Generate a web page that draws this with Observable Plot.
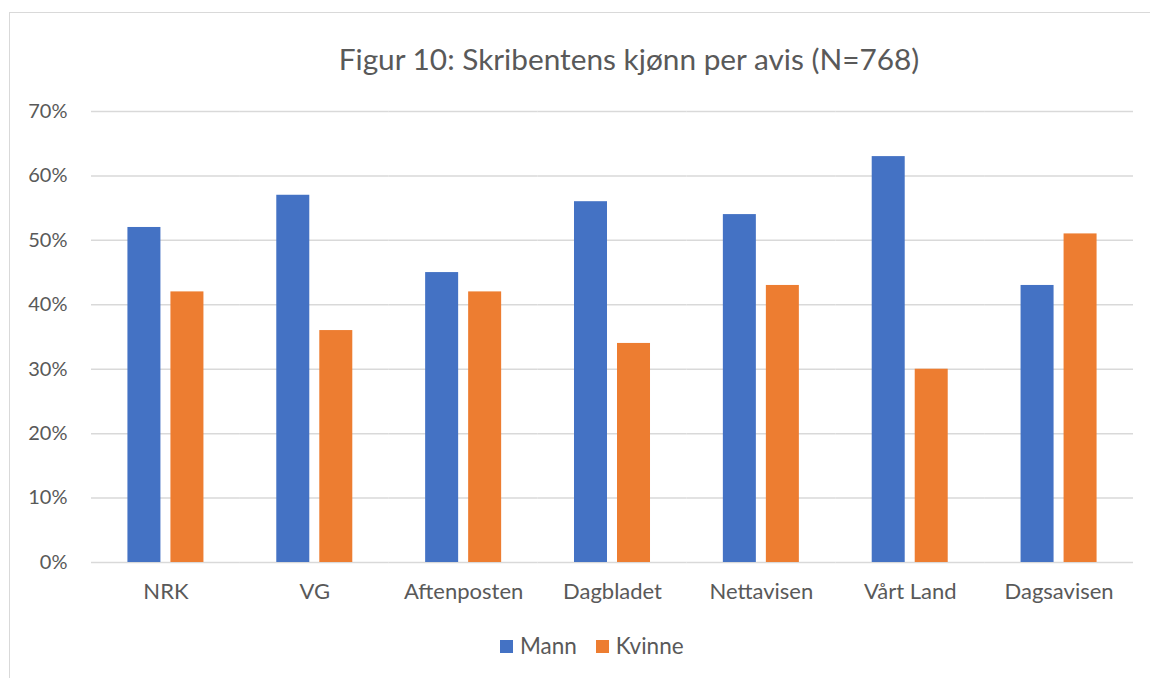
<!DOCTYPE html>
<html>
<head>
<meta charset="utf-8">
<script src="https://cdn.jsdelivr.net/npm/d3@7"></script>
<script src="https://cdn.jsdelivr.net/npm/@observablehq/plot@0.6"></script>
<style>
  html, body { margin: 0; padding: 0; background: #fff; }
  #wrap { position: relative; width: 1150px; height: 678px; overflow: hidden; font-family: Lato, "Open Sans", sans-serif; color: #595959; }
  #border { position: absolute; left: 9px; top: 12px; width: 1200px; height: 720px; border: 1.5px solid #d9d9d9; box-sizing: border-box; }
  #title { position: absolute; left: 0; width: 1258px; top: 39px; text-align: center; font-size: 29.8px; line-height: 40px; white-space: nowrap; }
  #chart { position: absolute; left: 0; top: 0; }
  #legend { position: absolute; top: 632px; left: 500px; font-size: 22.5px; line-height: 28px; display: flex; align-items: center; white-space: nowrap; }
  .sw { display: inline-block; width: 13px; height: 13px; margin-right: 7px; }
  .item { display: flex; align-items: center; margin-right: 19px; }
</style>
</head>
<body>
<div id="wrap">
  <div id="border"></div>
  <div id="title">Figur 10: Skribentens kjønn per avis (N=768)</div>
  <div id="chart"></div>
  <div id="legend"></div>
</div>
<script>
const avis = ["NRK", "VG", "Aftenposten", "Dagbladet", "Nettavisen", "Vårt Land", "Dagsavisen"];
const series = ["Mann", "Kvinne"];
const mann = [0.52, 0.57, 0.45, 0.56, 0.54, 0.63, 0.43];
const kvinne = [0.42, 0.36, 0.42, 0.34, 0.43, 0.30, 0.51];
const colors = ["#4472C4", "#ED7D31"];
const yTicks = [0, 0.1, 0.2, 0.3, 0.4, 0.5, 0.6, 0.7];

const table = [];
avis.forEach((a, i) => {
  table.push({avis: a, kjonn: series[0], value: mann[i]});
  table.push({avis: a, kjonn: series[1], value: kvinne[i]});
});

const plot = Plot.plot({
  width: 1150,
  height: 678,
  marginLeft: 91,
  marginRight: 17,
  marginTop: 111,
  marginBottom: 116,
  style: {fontFamily: "Lato, 'Open Sans', sans-serif", fontSize: "20px", color: "#595959", background: "transparent"},
  fx: {domain: avis, padding: 0, round: false, label: null},
  x: {domain: series, paddingInner: 0.2326, paddingOuter: 0.847, round: false, axis: null},
  y: {domain: [0, 0.7], label: null},
  color: {domain: series, range: colors},
  marks: [
    Plot.gridY(yTicks, {stroke: "#d9d9d9", strokeOpacity: 1, strokeWidth: 1.5}),
    Plot.barY(table, {fx: "avis", x: "kjonn", y: "value", fill: "kjonn"}),
    Plot.axisY(yTicks, {tickFormat: d3.format(".0%"), tickSize: 0, tickPadding: 24, label: null, fontSize: 20, fill: "#595959"}),
    Plot.axisFx({anchor: "bottom", tickSize: 0, tickPadding: 21, label: null, fontSize: 22, fill: "#595959"})
  ]
});
document.getElementById("chart").appendChild(plot);

const legend = document.getElementById("legend");
series.forEach((s, i) => {
  const item = document.createElement("div");
  item.className = "item";
  const sw = document.createElement("span");
  sw.className = "sw";
  sw.style.background = colors[i];
  const t = document.createElement("span");
  t.textContent = s;
  item.appendChild(sw);
  item.appendChild(t);
  legend.appendChild(item);
});
</script>
</body>
</html>
